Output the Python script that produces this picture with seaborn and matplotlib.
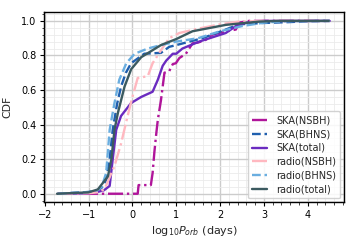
import matplotlib
matplotlib.use("Agg")
import matplotlib.pyplot as plt
import seaborn as sns
from matplotlib.ticker import AutoMinorLocator

sns.set_style("ticks")
plt.rcParams['font.family'] = ['DejaVu Sans']

labels = ["SKA(NSBH)", "SKA(BHNS)", "SKA(total)", "radio(NSBH)", "radio(BHNS)", "radio(total)"]
colors = ["#b0159a", "#1f5fae", "#6a2bc0", "#ffb8c0", "#6aaee0", "#3b5a60"]
styles = ["-.", "--", "-", "-.", "--", "-"]

ska_nsbh_x = [-1.7, 0.12, 0.14, 0.42, 0.46, 0.50, 0.54, 0.58, 0.65, 0.73, 0.84, 0.92, 0.99, 1.07, 1.22, 1.37, 1.50, 1.67, 1.82, 2.13, 2.36, 2.43, 2.66, 3.0, 4.5]
ska_nsbh_y = [0.0, 0.0, 0.05, 0.05, 0.12, 0.24, 0.34, 0.43, 0.54, 0.70, 0.71, 0.75, 0.755, 0.785, 0.81, 0.87, 0.875, 0.89, 0.92, 0.94, 0.95, 0.99, 1.0, 1.0, 1.0]

ska_bhns_x = [-1.7, -1.0, -0.8, -0.7, -0.6, -0.52, -0.45, -0.35, -0.26, -0.15, -0.03, 0.27, 0.65, 0.84, 1.0, 1.6, 2.13, 2.43, 3.0, 3.57, 4.0, 4.5]
ska_bhns_y = [0.0, 0.01, 0.02, 0.035, 0.08, 0.20, 0.37, 0.52, 0.62, 0.70, 0.755, 0.81, 0.815, 0.85, 0.86, 0.90, 0.95, 0.98, 0.988, 0.993, 0.998, 1.0]

ska_total_x = [-1.7, -1.0, -0.8, -0.65, -0.52, -0.45, -0.37, -0.26, -0.03, 0.2, 0.46, 0.58, 0.69, 0.77, 0.92, 1.0, 1.14, 1.52, 2.13, 2.36, 2.6, 3.0, 4.5]
ska_total_y = [0.0, 0.003, 0.01, 0.02, 0.045, 0.20, 0.37, 0.45, 0.525, 0.56, 0.59, 0.66, 0.74, 0.77, 0.81, 0.81, 0.84, 0.88, 0.93, 0.97, 0.99, 1.0, 1.0]

radio_nsbh_x = [-1.7, -1.0, -0.8, -0.64, -0.41, -0.26, -0.11, 0.0, 0.12, 0.35, 0.46, 0.65, 0.84, 1.07, 1.5, 2.0, 2.43, 3.0, 4.5]
radio_nsbh_y = [0.0, 0.003, 0.008, 0.025, 0.16, 0.29, 0.45, 0.56, 0.67, 0.68, 0.755, 0.83, 0.90, 0.93, 0.955, 0.98, 0.996, 1.0, 1.0]

radio_bhns_x = [-1.7, -1.0, -0.8, -0.7, -0.6, -0.52, -0.41, -0.30, -0.14, 0.05, 0.35, 0.65, 1.0, 1.5, 2.0, 2.5, 3.0, 3.5, 4.5]
radio_bhns_y = [0.0, 0.01, 0.02, 0.04, 0.12, 0.37, 0.525, 0.66, 0.755, 0.81, 0.84, 0.86, 0.88, 0.90, 0.94, 0.97, 0.99, 0.998, 1.0]

radio_total_x = [-1.72, -1.0, -0.79, -0.56, -0.48, -0.41, -0.33, -0.18, -0.03, 0.2, 0.65, 1.0, 1.37, 2.13, 2.89, 3.34, 4.48]
radio_total_y = [0.0, 0.008, 0.025, 0.10, 0.20, 0.37, 0.47, 0.62, 0.72, 0.79, 0.86, 0.895, 0.94, 0.977, 0.996, 1.0, 1.0]

series_x = [ska_nsbh_x, ska_bhns_x, ska_total_x, radio_nsbh_x, radio_bhns_x, radio_total_x]
series_y = [ska_nsbh_y, ska_bhns_y, ska_total_y, radio_nsbh_y, radio_bhns_y, radio_total_y]

fig = plt.figure(figsize=(3.57, 2.45), dpi=100)
ax = fig.add_axes([0.123, 0.174, 0.841, 0.776])

for xs, ys, lab, c, ls in zip(series_x, series_y, labels, colors, styles):
    sns.lineplot(x=xs, y=ys, ax=ax, color=c, linestyle=ls, linewidth=1.7,
                 label=lab, estimator=None, sort=False)

ax.set_xlim(-2.02, 4.83)
ax.set_ylim(-0.05, 1.05)
ax.set_xticks([-2, -1, 0, 1, 2, 3, 4])
ax.set_yticks([0.0, 0.2, 0.4, 0.6, 0.8, 1.0])
ax.xaxis.set_minor_locator(AutoMinorLocator(5))
ax.yaxis.set_minor_locator(AutoMinorLocator(5))
ax.grid(which='major', color='#cccccc', linewidth=1.0)
ax.grid(which='minor', color='#ebebeb', linewidth=0.6)
ax.set_axisbelow(True)
for s in ax.spines.values():
    s.set_color('black')
    s.set_linewidth(1.0)
ax.tick_params(which='major', labelsize=7, length=3, width=0.8, colors='black', direction='out', pad=2.5)
ax.tick_params(which='minor', length=1.8, width=0.6, direction='out')
ax.set_xlabel(r"log$_{10}P_{orb}$ (days)", fontsize=8, labelpad=3)
ax.set_ylabel("CDF", fontsize=7.8, labelpad=6)
leg = ax.legend(loc='lower right', fontsize=7.0, framealpha=0.85, handlelength=1.6,
                borderpad=0.4, labelspacing=0.4, handletextpad=0.95, borderaxespad=0.4)
fig.savefig("out.png", dpi=100)
